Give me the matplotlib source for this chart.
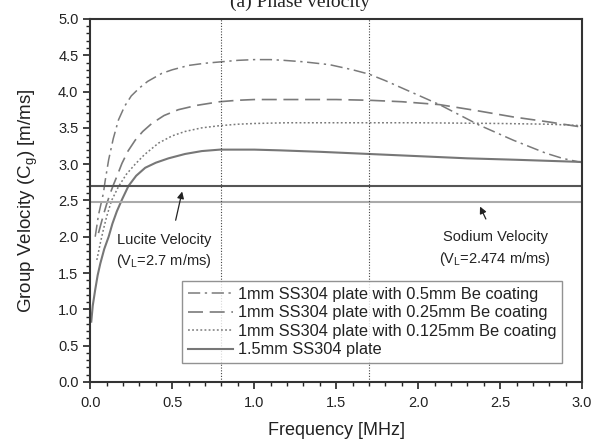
import numpy as np
import matplotlib
matplotlib.use("Agg")
import matplotlib.pyplot as plt
from matplotlib.ticker import MultipleLocator

plt.rcParams['font.family'] = ['Liberation Sans', 'DejaVu Sans']

# 1mm SS304 + 0.5mm Be
f_a = [0.03, 0.05, 0.08, 0.09, 0.112, 0.14, 0.172, 0.21, 0.25, 0.3, 0.35, 0.436, 0.5, 0.6, 0.7, 0.8,
       0.9, 1.0, 1.1, 1.18, 1.3, 1.46, 1.6, 1.7, 1.8, 1.93, 2.03, 2.13, 2.25, 2.37, 2.48, 2.58, 2.68,
       2.78, 2.88, 2.98, 3.0]
v_a = [2.0, 2.3, 2.6, 2.76, 3.06, 3.35, 3.61, 3.8, 3.94, 4.05, 4.14, 4.25, 4.30, 4.36, 4.39, 4.41,
       4.43, 4.44, 4.44, 4.43, 4.41, 4.37, 4.30, 4.24, 4.15, 4.02, 3.92, 3.82, 3.68, 3.54, 3.43, 3.33, 3.24,
       3.15, 3.08, 3.03, 3.02]
# 1mm SS304 + 0.25mm Be
f_b = [0.05, 0.08, 0.1, 0.122, 0.142, 0.162, 0.193, 0.23, 0.274, 0.32, 0.375, 0.45, 0.537, 0.65, 0.79,
       0.9, 1.0, 1.16, 1.3, 1.5, 1.7, 1.9, 2.13, 2.35, 2.58, 2.8, 3.0]
v_b = [2.05, 2.3, 2.45, 2.6, 2.72, 2.83, 3.01, 3.18, 3.33, 3.45, 3.56, 3.67, 3.75, 3.81, 3.86,
       3.88, 3.89, 3.89, 3.89, 3.89, 3.88, 3.86, 3.82, 3.74, 3.65, 3.58, 3.51]
# 1mm SS304 + 0.125mm Be
f_c = [0.04, 0.06, 0.08, 0.1, 0.13, 0.172, 0.22, 0.274, 0.33, 0.416, 0.5, 0.578, 0.68, 0.79, 0.9, 1.0,
       1.2, 1.5, 2.0, 2.5, 2.8, 3.0]
v_c = [1.68, 1.9, 2.1, 2.28, 2.5, 2.69, 2.86, 3.0, 3.13, 3.29, 3.39, 3.45, 3.5, 3.53, 3.55, 3.56,
       3.57, 3.57, 3.57, 3.56, 3.55, 3.53]
# 1.5mm SS304
f_d = [0.006, 0.015, 0.03, 0.045, 0.061, 0.085, 0.112, 0.135, 0.162, 0.195, 0.233, 0.28, 0.335, 0.4,
       0.477, 0.578, 0.68, 0.79, 0.9, 1.0, 1.156, 1.4, 1.7, 2.0, 2.3, 2.6, 3.0]
v_d = [0.83, 1.05, 1.27, 1.47, 1.63, 1.83, 2.0, 2.18, 2.35, 2.52, 2.70, 2.84, 2.95, 3.02,
       3.08, 3.14, 3.18, 3.20, 3.20, 3.20, 3.19, 3.17, 3.14, 3.11, 3.08, 3.06, 3.03]

labels = ["1mm SS304 plate with 0.5mm Be coating",
          "1mm SS304 plate with 0.25mm Be coating",
          "1mm SS304 plate with 0.125mm Be coating",
          "1.5mm SS304 plate"]

lucite_v = 2.7
sodium_v = 2.474
vlines = [0.8, 1.7]

fig = plt.figure(figsize=(5.94, 4.41), dpi=100)
ax = fig.add_axes([0.152, 0.134, 0.828, 0.823])

gray = '#7a7a7a'
ax.plot(f_a, v_a, color=gray, lw=1.1, linestyle=(0, (8, 3, 1.5, 3)), label=labels[0])
ax.plot(f_b, v_b, color=gray, lw=1.2, linestyle=(0, (9, 4)), label=labels[1])
ax.plot(f_c, v_c, color=gray, lw=1.1, linestyle=(0, (1.2, 1.5)), label=labels[2])
ax.plot(f_d, v_d, color='#777777', lw=1.5, linestyle='-', label=labels[3])

ax.axhline(lucite_v, color='#555555', lw=1.5)
ax.axhline(sodium_v, color='#aaaaaa', lw=1.5)
for xv in vlines:
    ax.axvline(xv, color='#444444', lw=0.8, linestyle=(0, (1, 1.5)))

ax.set_xlim(0, 3.0)
ax.set_ylim(0, 5.0)
ax.xaxis.set_major_locator(MultipleLocator(0.5))
ax.xaxis.set_minor_locator(MultipleLocator(0.1))
ax.yaxis.set_major_locator(MultipleLocator(0.5))
ax.yaxis.set_minor_locator(MultipleLocator(0.1))
ax.xaxis.set_major_formatter(plt.FormatStrFormatter('%.1f'))
ax.yaxis.set_major_formatter(plt.FormatStrFormatter('%.1f'))
ax.tick_params(which='major', direction='out', length=5, width=1.2, labelsize=10.5, colors='#222222')
ax.tick_params(axis='x', which='major', pad=5)
ax.tick_params(which='minor', direction='out', length=3, width=1.0, colors='#222222')
ax.tick_params(top=False, right=False)
for s in ax.spines.values():
    s.set_linewidth(1.5)
    s.set_color('#333333')

ax.set_xlabel('Frequency [MHz]', fontsize=13, color='#222222', labelpad=9)
ax.set_ylabel(r'Group Velocity (C$_\mathregular{g}$) [m/ms]', fontsize=13.5, color='#222222', labelpad=13)

ax.annotate('', xy=(0.564, 2.66), xytext=(0.517, 2.19),
            arrowprops=dict(arrowstyle='-|>', color='#222222', lw=0.9, mutation_scale=10))
ax.text(0.45, 1.96, 'Lucite Velocity', ha='center', va='center', fontsize=10.5, color='#222222')
ax.text(0.45, 1.66, r'(V$_\mathregular{L}$=2.7 m/ms)', ha='center', va='center', fontsize=10.5, color='#222222')

ax.annotate('', xy=(2.37, 2.45), xytext=(2.42, 2.21),
            arrowprops=dict(arrowstyle='-|>', color='#222222', lw=0.9, mutation_scale=10))
ax.text(2.47, 1.99, 'Sodium Velocity', ha='center', va='center', fontsize=10.5, color='#222222')
ax.text(2.47, 1.69, r'(V$_\mathregular{L}$=2.474 m/ms)', ha='center', va='center', fontsize=10.5, color='#222222')

leg = ax.legend(loc='lower left', bbox_to_anchor=(0.187, 0.0515), fontsize=11.8, frameon=True,
                fancybox=False, handlelength=2.75, handletextpad=0.3, labelspacing=0.22,
                borderpad=0.35, borderaxespad=0)
leg.get_frame().set_edgecolor('#777777')
leg.get_frame().set_linewidth(1.0)
for t in leg.get_texts():
    t.set_color('#222222')

fig.text(0.505, 0.995, '(a) Phase velocity', ha='center', va='center', fontsize=14,
         family='Liberation Serif', color='#222222')

fig.savefig('out.png', dpi=100)
